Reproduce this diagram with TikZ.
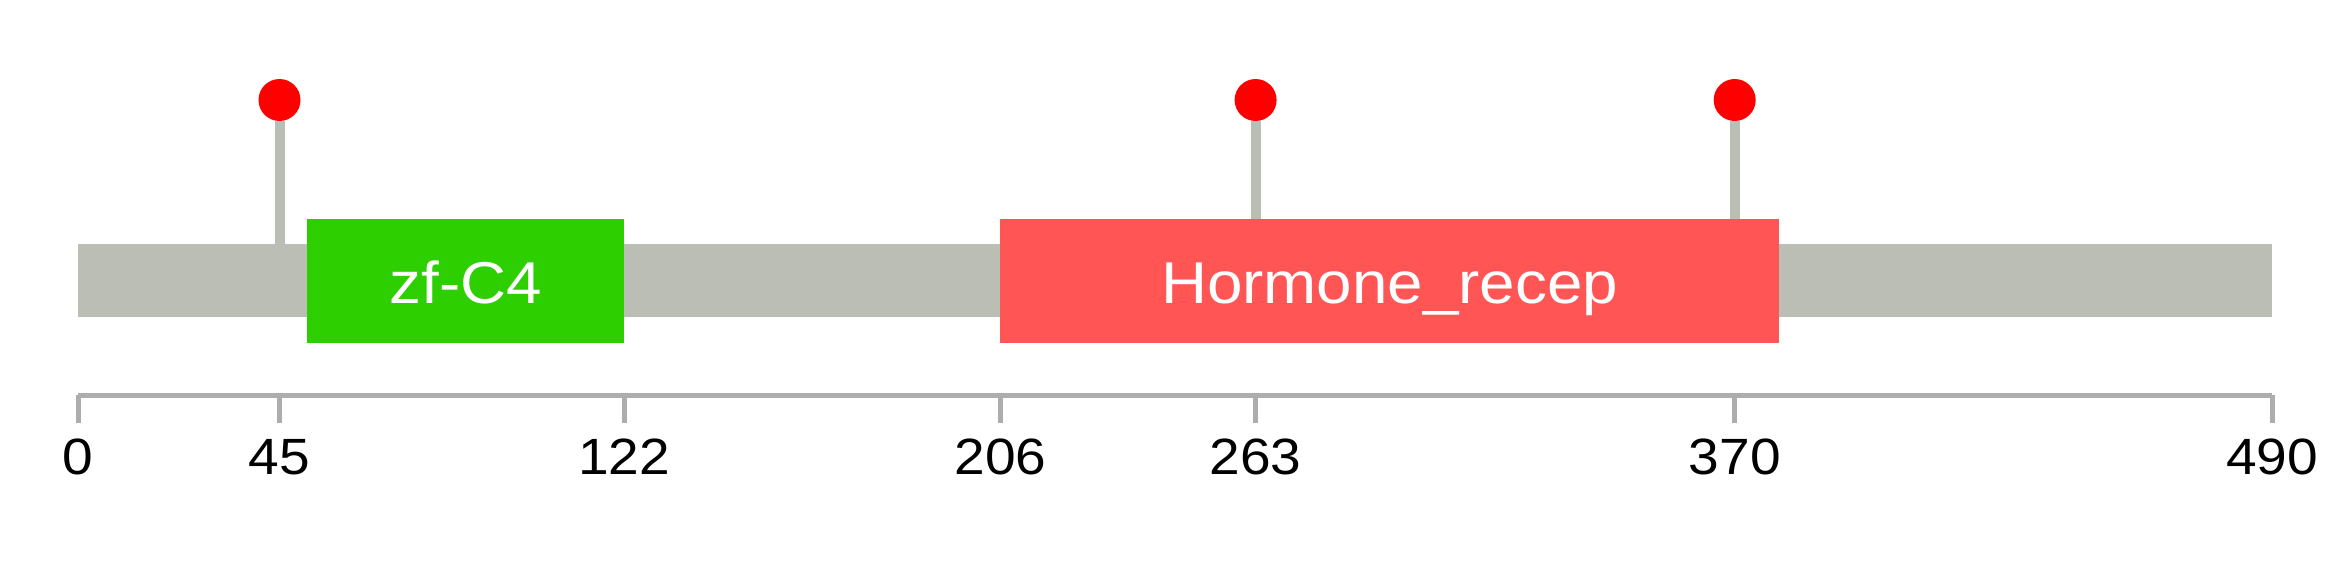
\documentclass[tikz,border=0pt]{standalone}
\usepackage{fontspec}
\setmainfont{Liberation Sans}
\newfontfamily\widesans[FakeStretch=1.08]{Liberation Sans}
\definecolor{bargray}{RGB}{187,190,181}
\definecolor{axisgray}{RGB}{173,173,173}
\definecolor{zfgreen}{RGB}{46,207,0}
\definecolor{hrred}{RGB}{255,85,85}
\definecolor{pinred}{RGB}{255,0,0}
\tikzset{
  backbone/.style={fill=bargray, draw=none, inner sep=0pt, anchor=north west},
  domainbox/.style={draw=none, inner sep=0pt, anchor=north west, minimum height=124pt},
  domaintext/.style={text=white, font=\widesans\fontsize{59}{59}\selectfont, anchor=base, inner sep=0pt},
  pin/.style={circle, fill=pinred, draw=none, minimum size=42pt, inner sep=0pt},
  stem/.style={draw=bargray, line width=10pt},
  axisline/.style={draw=axisgray, line width=5pt},
  tickmark/.style={draw=axisgray, line width=5pt},
  ticklabel/.style={font=\widesans\fontsize{51}{51}\selectfont, anchor=base, inner sep=0pt}
}
\begin{document}
\begin{tikzpicture}[x=1pt,y=-1pt]
\useasboundingbox (0,0) rectangle (2348,578);
% backbone
\node[backbone, minimum width=2194pt, minimum height=73pt] (bar) at (78,244) {};
% pins
\node[pin] (p45) at (279.5,100) {};
\node[pin] (p263) at (1255.6,100) {};
\node[pin] (p370) at (1734.7,100) {};
% domains
\node[domainbox, fill=zfgreen, minimum width=317pt] (zf) at (307,219) {};
\node[domainbox, fill=hrred, minimum width=779pt] (hr) at (1000,219) {};
\node[domaintext] (zft) at (zf.center |- 0,303) {zf-C4};
\node[domaintext] (hrt) at (hr.center |- 0,303) {Hormone\_recep};
% stems
\draw[stem] (p45.south) -- (p45.south |- bar.north);
\draw[stem] (p263.south) -- (p263.south |- hr.north);
\draw[stem] (p370.south) -- (p370.south |- hr.north);
% axis
\coordinate (a0) at (78,395);
\coordinate (a490) at (2272,395);
\draw[axisline] (a0) -- (a490);
\foreach \v/\n in {0/t0,45/t45,122/t122,206/t206,263/t263,370/t370,490/t490}{
  \coordinate (\n) at ({78+\v*4.4776},395);
  \draw[tickmark] (\n) -- ++(0,28);
  \node[ticklabel] (l\n) at ({78+\v*4.4776},474) {\v};
}
\end{tikzpicture}
\end{document}
